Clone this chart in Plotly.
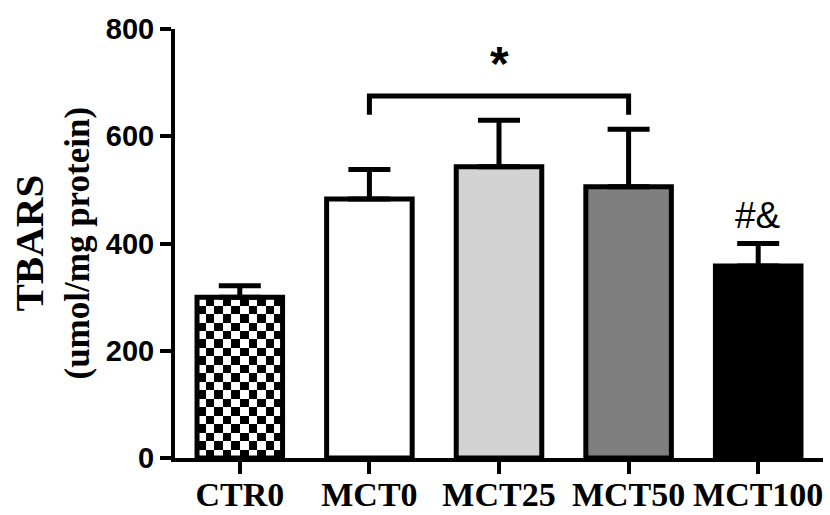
import plotly.graph_objects as go

# ---- data ----
categories = ["CTR0", "MCT0", "MCT25", "MCT50", "MCT100"]
means = [300, 483, 543, 506, 358]
sem = [21, 55, 87, 107, 42]
fill_colors = ["white", "white", "#d3d3d3", "#7f7f7f", "black"]
y_ticks = [0, 200, 400, 600, 800]
bracket_groups = ["MCT0", "MCT50"]
bracket_y = [640, 675]
star_label = "*"
star_group = "MCT25"
star_y = 736
mct100_label = "#&"
mct100_label_y = 453

BAR_W = 0.66
xpos = list(range(len(categories)))

fig = go.Figure()

# checkerboard fill for the CTR0 bar (built from its value)
nx, ny = 10, 19
v0 = means[0]
dx = BAR_W / nx
dy = v0 / ny
z = [[(r + c + (ny - 1)) % 2 for c in range(nx)] for r in range(ny)]
fig.add_trace(go.Heatmap(
    z=z, x0=xpos[0] - BAR_W / 2 + dx / 2, dx=dx, y0=dy / 2, dy=dy,
    colorscale=[[0, "white"], [1, "black"]], zmin=0, zmax=1,
    showscale=False, hoverinfo="skip", xgap=0, ygap=0,
))

colors = list(fill_colors)
colors[0] = "rgba(0,0,0,0)"
fig.add_trace(go.Bar(
    x=xpos, y=means, width=BAR_W,
    marker=dict(color=colors, line=dict(color="black", width=5)),
    error_y=dict(type="data", array=sem, arrayminus=[0] * len(sem),
                 symmetric=False, thickness=5, width=21, color="black"),
    cliponaxis=False,
))

# significance bracket
bx0 = categories.index(bracket_groups[0])
bx1 = categories.index(bracket_groups[1])
fig.add_trace(go.Scatter(
    x=[bx0, bx0, bx1, bx1],
    y=[bracket_y[0], bracket_y[1], bracket_y[1], bracket_y[0]],
    mode="lines", line=dict(color="black", width=5),
    hoverinfo="skip", cliponaxis=False,
))

fig.add_annotation(x=categories.index(star_group), y=star_y, text=star_label,
                   showarrow=False, xanchor="center", yanchor="middle",
                   font=dict(family="Liberation Sans", size=48, color="black", weight="bold"))
fig.add_annotation(x=categories.index("MCT100"), y=mct100_label_y, text=mct100_label,
                   showarrow=False, xanchor="center", yanchor="middle",
                   font=dict(family="Liberation Sans", size=37, color="black"))

# y axis title (two lines)
L, R, T, B = 175, 7, 28.5, 56.5
PW = 830 - L - R
def px_to_paper(px):
    return (px - L) / PW
fig.add_annotation(x=px_to_paper(28), y=0.5, xref="paper", yref="paper",
                   text="TBARS", textangle=-90, showarrow=False,
                   xanchor="center", yanchor="middle",
                   font=dict(family="Liberation Serif", size=41, color="black", weight="bold"))
fig.add_annotation(x=px_to_paper(77), y=0.5, xref="paper", yref="paper",
                   text="(umol/mg protein)", textangle=-90, showarrow=False,
                   xanchor="center", yanchor="middle",
                   font=dict(family="Liberation Serif", size=35, color="black", weight="bold"))

fig.update_layout(
    width=830, height=515, autosize=False,
    margin=dict(l=L, r=R, t=T, b=B, pad=0, autoexpand=False),
    paper_bgcolor="white", plot_bgcolor="white",
    showlegend=False,
    xaxis=dict(range=[-0.5, 4.5], tickvals=xpos, ticktext=categories,
               automargin=False, ticklabelstandoff=-9,
               showline=True, linecolor="black", linewidth=4,
               ticks="outside", ticklen=12, tickwidth=4, tickcolor="black",
               showgrid=False, zeroline=False,
               tickfont=dict(family="Liberation Serif", size=34, color="black", weight="bold")),
    yaxis=dict(range=[0, 800], tickvals=y_ticks, automargin=False,
               showline=True, linecolor="black", linewidth=4,
               ticks="outside", ticklen=11, tickwidth=4, tickcolor="black",
               showgrid=False, zeroline=False,
               tickfont=dict(family="Liberation Sans", size=29, color="black", weight="bold")),
)

fig.write_html("out.html")
